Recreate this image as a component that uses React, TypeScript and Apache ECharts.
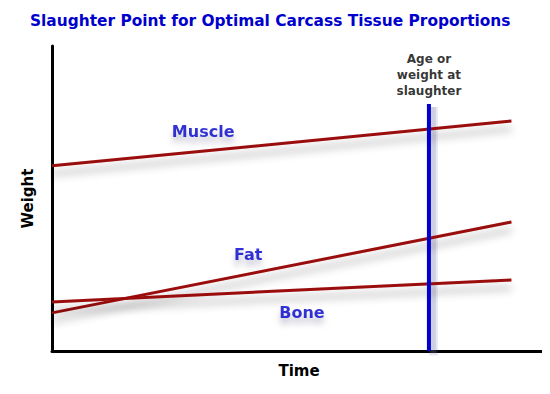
import React, { useEffect, useRef } from "react";
import * as echarts from "echarts";

const timeRange = [0, 93];
const muscle = [60.7, 75.4];
const fat = [12.5, 42.3];
const bone = [16.1, 23.3];
const slaughterX = 76.3;
const slaughterTop = 81;
const tissueLabels = [
  { name: "Muscle", x: 30.6, y: 72.1 },
  { name: "Fat", x: 39.7, y: 31.5 },
  { name: "Bone", x: 50.6, y: 12.5 },
];
const slaughterLabel = "Age or\nweight at\nslaughter";

const RED = "#9a0a0a";
const BLUE = "#0000cc";
const FONT = "DejaVu Sans";

export default function App() {
  const ref = useRef<HTMLDivElement>(null);
  useEffect(() => {
    if (!ref.current) return;
    const chart = echarts.init(ref.current, undefined, { renderer: "svg" });
    const lineSeries = (name: string, vals: number[]) => ({
      type: "line",
      name,
      data: [
        [timeRange[0], vals[0]],
        [timeRange[1], vals[1]],
      ],
      symbol: "none",
      z: 3,
      lineStyle: {
        color: RED,
        width: 3,
        shadowColor: "rgba(0,0,0,0.35)",
        shadowBlur: 8,
        shadowOffsetY: 8,
      },
    });
    chart.setOption({
      animation: false,
      backgroundColor: "#fff",
      title: {
        text: "Slaughter Point for Optimal Carcass Tissue Proportions",
        left: 25,
        top: 8,
        textStyle: { color: BLUE, fontFamily: FONT, fontWeight: "bold", fontSize: 15.4 },
      },
      grid: { left: 52, right: 4, top: 46, bottom: 43 },
      xAxis: {
        type: "value",
        min: 0,
        max: 100,
        name: "Time",
        nameLocation: "middle",
        nameGap: 12,
        nameTextStyle: { color: "#000", fontFamily: FONT, fontWeight: "bold", fontSize: 15 },
        axisLine: { show: true, lineStyle: { color: "#000", width: 3 } },
        axisTick: { show: false },
        axisLabel: { show: false },
        splitLine: { show: false },
      },
      yAxis: {
        type: "value",
        min: 0,
        max: 100,
        name: "Weight",
        nameLocation: "middle",
        nameRotate: 90,
        nameGap: 17,
        nameTextStyle: { color: "#000", fontFamily: FONT, fontWeight: "bold", fontSize: 15 },
        axisLine: { show: true, lineStyle: { color: "#000", width: 3 } },
        axisTick: { show: false },
        axisLabel: { show: false },
        splitLine: { show: false },
      },
      series: [
        lineSeries("Muscle", muscle),
        lineSeries("Fat", fat),
        lineSeries("Bone", bone),
        {
          type: "line",
          name: "SlaughterShadow",
          data: [
            [slaughterX + 0.9, -3],
            [slaughterX + 0.9, slaughterTop - 1],
          ],
          symbol: "none",
          z: 2,
          silent: true,
          lineStyle: { color: "rgba(110,110,170,0.16)", width: 9 },
        },
        {
          type: "line",
          name: "SlaughterShadow2",
          data: [
            [slaughterX + 0.9, -2],
            [slaughterX + 0.9, slaughterTop - 1],
          ],
          symbol: "none",
          z: 2,
          silent: true,
          lineStyle: { color: "rgba(110,110,170,0.2)", width: 5 },
        },
        {
          type: "line",
          name: "Slaughter",
          data: [
            [slaughterX, 0],
            [slaughterX, slaughterTop],
          ],
          symbol: "none",
          z: 4,
          lineStyle: { color: BLUE, width: 4 },
        },
        {
          type: "scatter",
          symbolSize: 0,
          z: 5,
          data: tissueLabels.map((d) => ({ name: d.name, value: [d.x, d.y] })),
          label: {
            show: true,
            position: "inside",
            formatter: (p: any) => p.name,
            color: "#0000c8",
            fontFamily: FONT,
            fontWeight: "bold",
            fontSize: 16,
            textShadowColor: "rgba(0,0,60,0.3)",
            textShadowBlur: 6,
            textShadowOffsetY: 6,
          },
        },
        {
          type: "scatter",
          symbolSize: 0,
          z: 5,
          data: [{ name: slaughterLabel, value: [slaughterX, slaughterTop] }],
          label: {
            show: true,
            position: "top",
            distance: 5,
            align: "center",
            formatter: (p: any) => p.name,
            color: "#000",
            fontFamily: FONT,
            fontWeight: "bold",
            fontSize: 12,
            lineHeight: 16,
          },
        },
      ],
    });
    return () => chart.dispose();
  }, []);
  return <div ref={ref} style={{ width: 550, height: 394, margin: -8 }} />;
}
